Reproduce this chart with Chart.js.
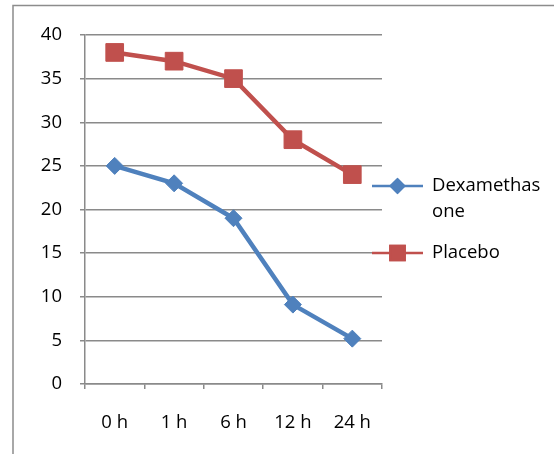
<!DOCTYPE html>
<html>
<head>
<meta charset="utf-8">
<script src="https://cdn.jsdelivr.net/npm/chart.js@4/dist/chart.umd.min.js"></script>
<style>
  html, body { margin: 0; padding: 0; background: #fff; }
  #wrap { width: 554px; height: 454px; position: relative; }
</style>
</head>
<body>
<div id="wrap"><canvas id="c" width="554" height="454"></canvas></div>
<script>
// Time points after treatment
const timePoints = ['0 h', '1 h', '6 h', '12 h', '24 h'];
// Scores per group
const dexamethasone = [25, 23, 19, 9.1, 5.2];
const placebo = [38, 37, 35, 28, 24];
// Legend text (the first name wraps onto two lines)
const seriesNames = [['Dexamethas', 'one'], ['Placebo']];
// Value axis
const yMin = 0, yMax = 40, yStep = 5;

const FONT = '"Open Sans", "Liberation Sans", sans-serif';
const BLUE = '#4F81BD';
const RED = '#C0504D';
const GRID = '#8a8a8a';

// Outer frame of the chart object
const framePlugin = {
  id: 'frame',
  beforeDraw(chart) {
    const ctx = chart.ctx;
    ctx.save();
    ctx.fillStyle = '#fff';
    ctx.fillRect(0, 0, chart.width, chart.height);
    ctx.strokeStyle = '#8c8c8c';
    ctx.lineWidth = 1.5;
    ctx.strokeRect(13, 5.5, chart.width + 20, chart.height + 20);
    ctx.restore();
  }
};

// Legend on the right, drawn with each dataset's own colours and markers
const sideLegend = {
  id: 'sideLegend',
  afterDraw(chart) {
    const ctx = chart.ctx;
    const area = chart.chartArea;
    const x0 = area.right - 10;
    const x1 = x0 + 51;
    const tx = x1 + 9;
    const rows = [186, 253];
    ctx.save();
    chart.data.datasets.forEach((ds, i) => {
      const y = rows[i];
      ctx.strokeStyle = ds.borderColor;
      ctx.lineWidth = 2.5;
      ctx.beginPath();
      ctx.moveTo(x0, y);
      ctx.lineTo(x1, y);
      ctx.stroke();
      Chart.helpers.drawPoint(ctx, {
        pointStyle: ds.pointStyle,
        radius: ds.pointStyle === 'rect' ? 10 : 6.5,
        rotation: 0,
        borderWidth: 1
      }, (x0 + x1) / 2, y);
      ctx.fillStyle = ds.pointBackgroundColor;
      ctx.strokeStyle = ds.pointBorderColor;
      ctx.fill();
      ctx.stroke();
      ctx.fillStyle = '#000';
      ctx.font = '18.5px ' + FONT;
      ctx.textBaseline = 'middle';
      ctx.textAlign = 'left';
      seriesNames[i].forEach((line, k) => {
        ctx.fillText(line, tx, y + k * 26);
      });
    });
    ctx.restore();
  }
};

new Chart(document.getElementById('c'), {
  type: 'line',
  data: {
    labels: timePoints,
    datasets: [
      {
        label: seriesNames[0].join(''),
        data: dexamethasone,
        borderColor: BLUE,
        backgroundColor: BLUE,
        pointBackgroundColor: BLUE,
        pointBorderColor: BLUE,
        borderWidth: 4.5,
        pointStyle: 'rectRot',
        pointRadius: 8.5,
        pointHoverRadius: 8.5,
        pointBorderWidth: 1,
        tension: 0
      },
      {
        label: seriesNames[1].join(''),
        data: placebo,
        borderColor: RED,
        backgroundColor: RED,
        pointBackgroundColor: RED,
        pointBorderColor: RED,
        borderWidth: 4.5,
        pointStyle: 'rect',
        pointRadius: 12.5,
        pointHoverRadius: 12.5,
        pointBorderWidth: 1,
        tension: 0
      }
    ]
  },
  options: {
    responsive: false,
    animation: false,
    events: [],
    layout: { padding: { left: 0, top: 35, right: 172, bottom: 0 } },
    plugins: {
      legend: { display: false },
      tooltip: { enabled: false }
    },
    scales: {
      x: {
        offset: true,
        afterFit(s) { s.height = 70; },
        grid: {
          offset: true,
          drawOnChartArea: false,
          drawTicks: true,
          tickLength: 5,
          color: GRID,
          lineWidth: 1.5
        },
        border: { color: GRID, width: 1.5 },
        ticks: {
          color: '#000',
          font: { family: FONT, size: 18.5 },
          padding: 23,
          maxRotation: 0
        }
      },
      y: {
        min: yMin,
        max: yMax,
        afterFit(s) { s.width = 85; },
        grid: {
          color: GRID,
          lineWidth: 1.5,
          tickLength: 5
        },
        border: { color: GRID, width: 1.5 },
        ticks: {
          stepSize: yStep,
          color: '#000',
          font: { family: FONT, size: 18.5 },
          padding: 18
        }
      }
    }
  },
  plugins: [framePlugin, sideLegend]
});
</script>
</body>
</html>
